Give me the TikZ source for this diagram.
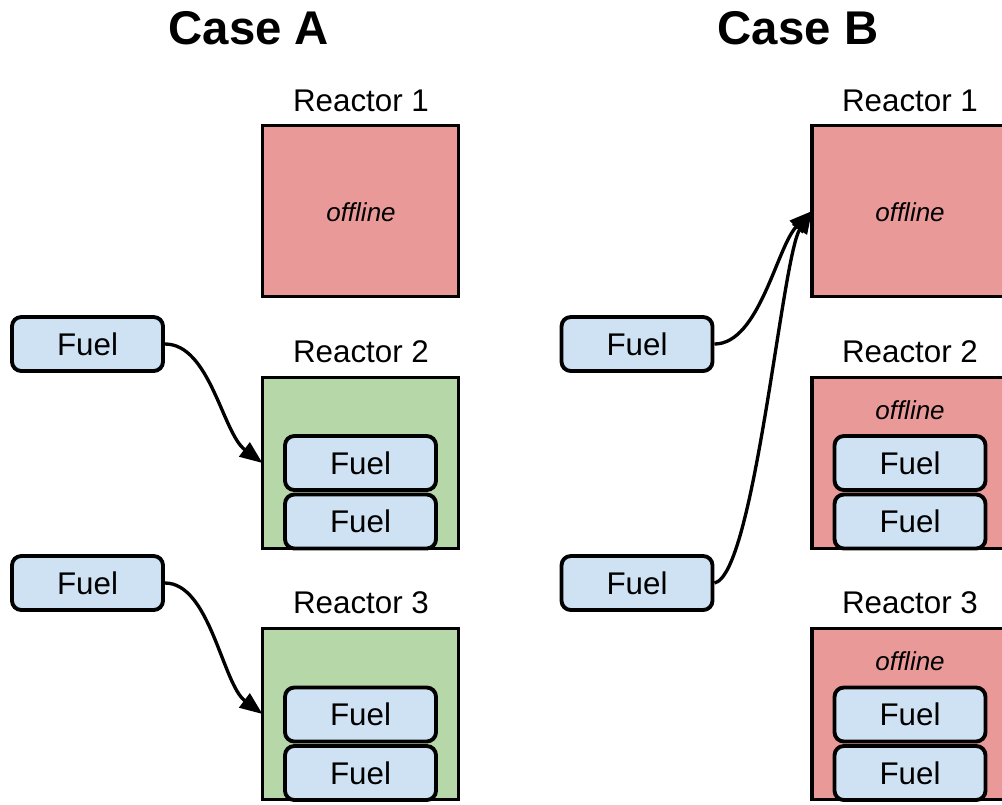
\documentclass[tikz,border=0pt]{standalone}
\usepackage{fontspec}
\setmainfont{Liberation Sans}
\usetikzlibrary{arrows.meta}
\definecolor{redfill}{HTML}{EA9999}
\definecolor{greenfill}{HTML}{B6D7A8}
\definecolor{bluefill}{HTML}{CFE2F3}
\tikzset{
  reactor/.style={draw=black, line width=2.9pt, minimum width=196*0.75pt, minimum height=171*0.75pt, inner sep=0pt, outer sep=0pt},
  fuelbox/.style={draw=black, line width=2.9pt, fill=bluefill, rounded corners=7pt, minimum width=151*0.75pt, minimum height=54*0.75pt, inner sep=0pt, font=\fontsize{23.5pt}{26pt}\selectfont},
  rlabel/.style={font=\fontsize{23.5pt}{26pt}\selectfont, inner sep=0pt},
  offl/.style={font=\fontsize{19.5pt}{22pt}\selectfont\itshape, inner sep=0pt},
  title/.style={font=\fontsize{35.5pt}{40pt}\selectfont\bfseries, inner sep=0pt},
  conn/.style={line width=2.5pt, -{Triangle[length=17pt,width=13pt]}}
}
\begin{document}
\begin{tikzpicture}[x=0.75pt, y=-0.75pt]
\useasboundingbox (0,0) rectangle (1002,804);
\clip (0,0) rectangle (1002,804);
% titles
\node[title] (ta) at (249,28) {Case A};
\node[title] (tb) at (798,28) {Case B};
% Case A reactors
\node[reactor, fill=redfill] (a1) at (360.5,211) {};
\node[offl] (a1o) at (361,212) {offline};
\node[rlabel] (a1l) at (361,101) {Reactor 1};
\node[reactor, fill=greenfill] (a2) at (360.5,463) {};
\node[rlabel] (a2l) at (361,352) {Reactor 2};
\node[fuelbox] (a2f1) at (360.5,463) {Fuel};
\node[fuelbox] (a2f2) at (360.5,521.5) {Fuel};
\node[reactor, fill=greenfill] (a3) at (360.5,714) {};
\node[rlabel] (a3l) at (361,603) {Reactor 3};
\node[fuelbox] (a3f1) at (360.5,714.5) {Fuel};
\node[fuelbox] (a3f2) at (360.5,773) {Fuel};
% Case A free fuel
\node[fuelbox] (af1) at (87.5,344) {Fuel};
\node[fuelbox] (af2) at (87.5,583) {Fuel};
\draw[conn] (af1.east) .. controls +(45,0) and +(-40,-30) .. (a2.west);
\draw[conn] (af2.east) .. controls +(45,0) and +(-40,-30) .. (a3.west);
% Case B reactors
\node[reactor, fill=redfill] (b1) at (910,211) {};
\node[offl] (b1o) at (910,212) {offline};
\node[rlabel] (b1l) at (910,101) {Reactor 1};
\node[reactor, fill=redfill] (b2) at (910,463) {};
\node[rlabel] (b2l) at (910,352) {Reactor 2};
\node[offl] (b2o) at (910,410) {offline};
\node[fuelbox] (b2f1) at (910,463) {Fuel};
\node[fuelbox] (b2f2) at (910,521.5) {Fuel};
\node[reactor, fill=redfill] (b3) at (910,714) {};
\node[rlabel] (b3l) at (910,603) {Reactor 3};
\node[offl] (b3o) at (910,661) {offline};
\node[fuelbox] (b3f1) at (910,714.5) {Fuel};
\node[fuelbox] (b3f2) at (910,773) {Fuel};
% Case B free fuel
\node[fuelbox] (bf1) at (637,344) {Fuel};
\node[fuelbox] (bf2) at (637,583) {Fuel};
\draw[conn] (bf1.east) .. controls +(45,0) and +(-35,35) .. (b1.west);
\draw[conn] (bf2.east) .. controls +(40,-8) and +(-30,45) .. (b1.west);
\end{tikzpicture}
\end{document}
